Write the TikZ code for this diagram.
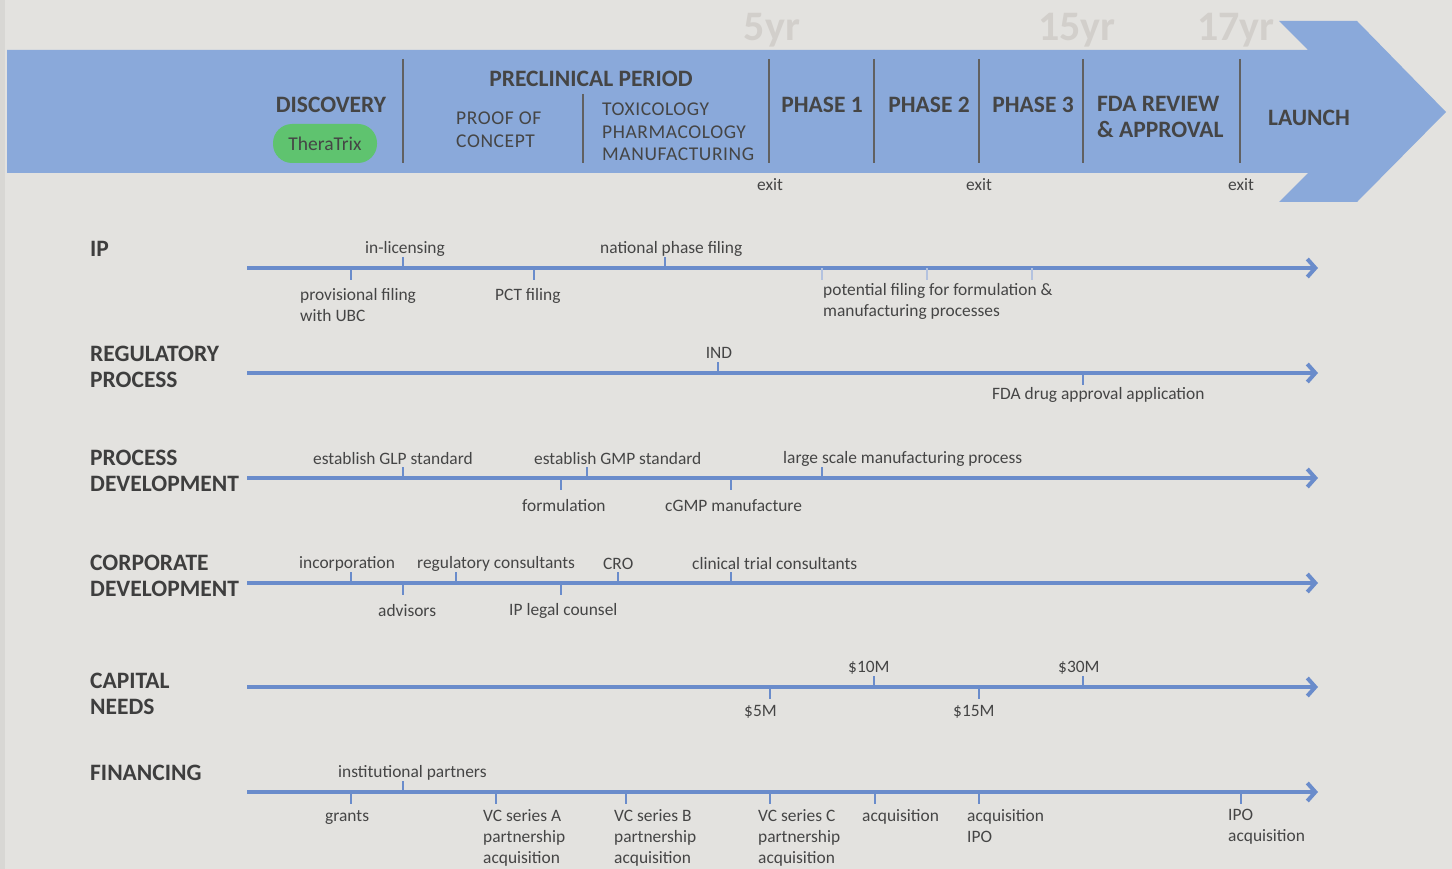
\documentclass[tikz,border=0pt]{standalone}
\usepackage{fontspec}
\setmainfont{Carlito}
\usetikzlibrary{arrows.meta}
\definecolor{bg}{HTML}{E3E2DF}
\definecolor{band}{HTML}{8AA9DA}
\definecolor{linec}{HTML}{6A8CCB}
\definecolor{lightc}{HTML}{B3C2DF}
\definecolor{txt}{HTML}{454545}
\definecolor{yr}{HTML}{D2CFCB}
\definecolor{pill}{HTML}{5FC36F}
\tikzset{
  lbl/.style={font=\fontsize{17.4}{21}\selectfont, text=txt, inner sep=0pt, align=left},
  rowlbl/.style={font=\bfseries\fontsize{23.5}{26}\selectfont, text=txt!90!black, inner sep=0pt, align=left, anchor=north west},
  head/.style={font=\bfseries\fontsize{23.5}{26}\selectfont, text=txt, inner sep=0pt, align=left},
  caps/.style={font=\addfontfeature{LetterSpace=3}\fontsize{19.5}{22.5}\selectfont, text=txt, inner sep=0pt, align=left},
  yrlbl/.style={font=\bfseries\fontsize{42}{42}\selectfont, text=yr, inner sep=0pt},
  sep/.style={draw=txt!85, line width=1.2pt},
  tl/.style={draw=linec, line width=4pt, -{Straight Barb[length=8pt,width=18pt]}},
  tick/.style={draw=linec, line width=2pt},
  ltick/.style={draw=lightc, line width=2pt},
}
\begin{document}
\begin{tikzpicture}[x=1pt,y=-1pt]
\path[fill=bg] (0,0) rectangle (1452,869);
\useasboundingbox (0,0) rectangle (1452,869);
\fill[bg!95!black] (0,0) rectangle (5,869);
% banner
\fill[band] (7,50) -- (1308,50) -- (1279,21) -- (1357,21) -- (1446,112) -- (1357,202) -- (1279,202) -- (1308,173) -- (7,173) -- cycle;
% year labels
\node[yrlbl] (y5) at (772,30) {5yr};
\node[yrlbl] (y15) at (1077,30) {15yr};
\node[yrlbl] (y17) at (1236,30) {17yr};
% separators
\draw[sep] (403,59) -- (403,163);
\draw[sep] (583,94) -- (583,163);
\draw[sep] (769,59) -- (769,163);
\draw[sep] (874,59) -- (874,163);
\draw[sep] (979,59) -- (979,163);
\draw[sep] (1083,59) -- (1083,163);
\draw[sep] (1240,59) -- (1240,163);
% banner text
\node[head] (disc) at (331,105) {DISCOVERY};
\node[fill=pill, rounded corners=19pt, minimum width=104pt, minimum height=39pt, inner sep=0pt,
      font=\fontsize{19.5}{22}\selectfont, text=txt] (thera) at (325,143.5) {TheraTrix};
\node[head] (pre) at (591,79) {PRECLINICAL PERIOD};
\node[caps, anchor=north west] (poc) at (456,112) {PROOF OF\\CONCEPT};
\node[caps, anchor=north west] (tox) at (602,103) {TOXICOLOGY\\PHARMACOLOGY\\MANUFACTURING};
\node[head] (p1) at (822,105) {PHASE 1};
\node[head] (p2) at (929,105) {PHASE 2};
\node[head] (p3) at (1033,105) {PHASE 3};
\node[head, anchor=north west] (fda) at (1097,96) {FDA REVIEW\\\& APPROVAL};
\node[head] (launch) at (1309,118) {LAUNCH};
\node[lbl] (exit1) at (770,185) {exit};
\node[lbl] (exit2) at (979,185) {exit};
\node[lbl] (exit3) at (1241,185) {exit};
% row labels
\node[rowlbl] (rIP) at (90,241) {IP};
\node[rowlbl] (rREG) at (90,346) {REGULATORY\\PROCESS};
\node[rowlbl] (rPROC) at (90,450) {PROCESS\\DEVELOPMENT};
\node[rowlbl] (rCORP) at (90,555) {CORPORATE\\DEVELOPMENT};
\node[rowlbl] (rCAP) at (90,673) {CAPITAL\\NEEDS};
\node[rowlbl] (rFIN) at (90,765) {FINANCING};
% timelines
\foreach \n/\yy in {ip/268, reg/373, proc/478, corp/583, cap/687, fin/792}{
  \coordinate (\n S) at (247,\yy);
  \coordinate (\n E) at (1318,\yy);
  \draw[tl] (\n S) -- (\n E);
}
% IP
\draw[tick] (403,268) -- ++(0,-11);
\draw[tick] (351,268) -- ++(0,12);
\draw[tick] (534,268) -- ++(0,12);
\draw[tick] (665,268) -- ++(0,-11);
\draw[ltick] (822,268) -- ++(0,12);
\draw[ltick] (927,268) -- ++(0,12);
\draw[ltick] (1032,268) -- ++(0,12);
\node[lbl] (ipa) at (405,249) {in-licensing};
\node[lbl, anchor=north west] (ipb) at (300,288) {provisional filing\\with UBC};
\node[lbl, anchor=west] (ipc) at (495,296) {PCT filing};
\node[lbl, anchor=west] (ipd) at (600,249) {national phase filing};
\node[lbl, anchor=north west] (ipe) at (823,283) {potential filing for formulation \&\\manufacturing processes};
% REG
\draw[tick] (718,373) -- ++(0,-11);
\draw[tick] (1083,373) -- ++(0,12);
\node[lbl] (rega) at (719,353) {IND};
\node[lbl, anchor=west] (regb) at (992,395) {FDA drug approval application};
% PROC
\draw[tick] (403,478) -- ++(0,-11);
\draw[tick] (587,478) -- ++(0,-11);
\draw[tick] (561,478) -- ++(0,12);
\draw[tick] (731,478) -- ++(0,12);
\draw[tick] (822,478) -- ++(0,-11);
\node[lbl, anchor=west] (pra) at (313,459) {establish GLP standard};
\node[lbl, anchor=west] (prb) at (534,459) {establish GMP standard};
\node[lbl, anchor=west] (prc) at (522,506) {formulation};
\node[lbl, anchor=west] (prd) at (665,506) {cGMP manufacture};
\node[lbl, anchor=west] (pre2) at (783,459) {large scale manufacturing process};
% CORP
\draw[tick] (351,583) -- ++(0,-11);
\draw[tick] (403,583) -- ++(0,12);
\draw[tick] (456,583) -- ++(0,-11);
\draw[tick] (561,583) -- ++(0,12);
\draw[tick] (618,583) -- ++(0,-11);
\draw[tick] (731,583) -- ++(0,-11);
\node[lbl, anchor=west] (coa) at (299,564) {incorporation};
\node[lbl, anchor=west] (cob) at (378,611) {advisors};
\node[lbl, anchor=west] (coc) at (417,564) {regulatory consultants};
\node[lbl, anchor=west] (cod) at (509,611) {IP legal counsel};
\node[lbl, anchor=west] (coe) at (603,564) {CRO};
\node[lbl, anchor=west] (cof) at (692,564) {clinical trial consultants};
% CAP
\draw[tick] (770,687) -- ++(0,12);
\draw[tick] (874,687) -- ++(0,-11);
\draw[tick] (979,687) -- ++(0,12);
\draw[tick] (1083,687) -- ++(0,-11);
\node[lbl, anchor=west] (caa) at (744,712) {\$5M};
\node[lbl, anchor=west] (cab) at (848,668) {\$10M};
\node[lbl, anchor=west] (cac) at (953,712) {\$15M};
\node[lbl, anchor=west] (cad) at (1058,668) {\$30M};
% FIN
\draw[tick] (403,792) -- ++(0,-11);
\draw[tick] (351,792) -- ++(0,12);
\draw[tick] (496,792) -- ++(0,12);
\draw[tick] (626,792) -- ++(0,12);
\draw[tick] (770,792) -- ++(0,12);
\draw[tick] (875,792) -- ++(0,12);
\draw[tick] (979,792) -- ++(0,12);
\draw[tick] (1241,792) -- ++(0,12);
\node[lbl, anchor=west] (fia) at (338,773) {institutional partners};
\node[lbl, anchor=west] (fib) at (325,817) {grants};
\node[lbl, anchor=north west] (fic) at (483,809) {VC series A\\partnership\\acquisition};
\node[lbl, anchor=north west] (fid) at (614,809) {VC series B\\partnership\\acquisition};
\node[lbl, anchor=north west] (fie) at (758,809) {VC series C\\partnership\\acquisition};
\node[lbl, anchor=west] (fif) at (862,817) {acquisition};
\node[lbl, anchor=north west] (fig) at (967,809) {acquisition\\IPO};
\node[lbl, anchor=north west] (fih) at (1228,809) {IPO\\acquisition};
\end{tikzpicture}
\end{document}
